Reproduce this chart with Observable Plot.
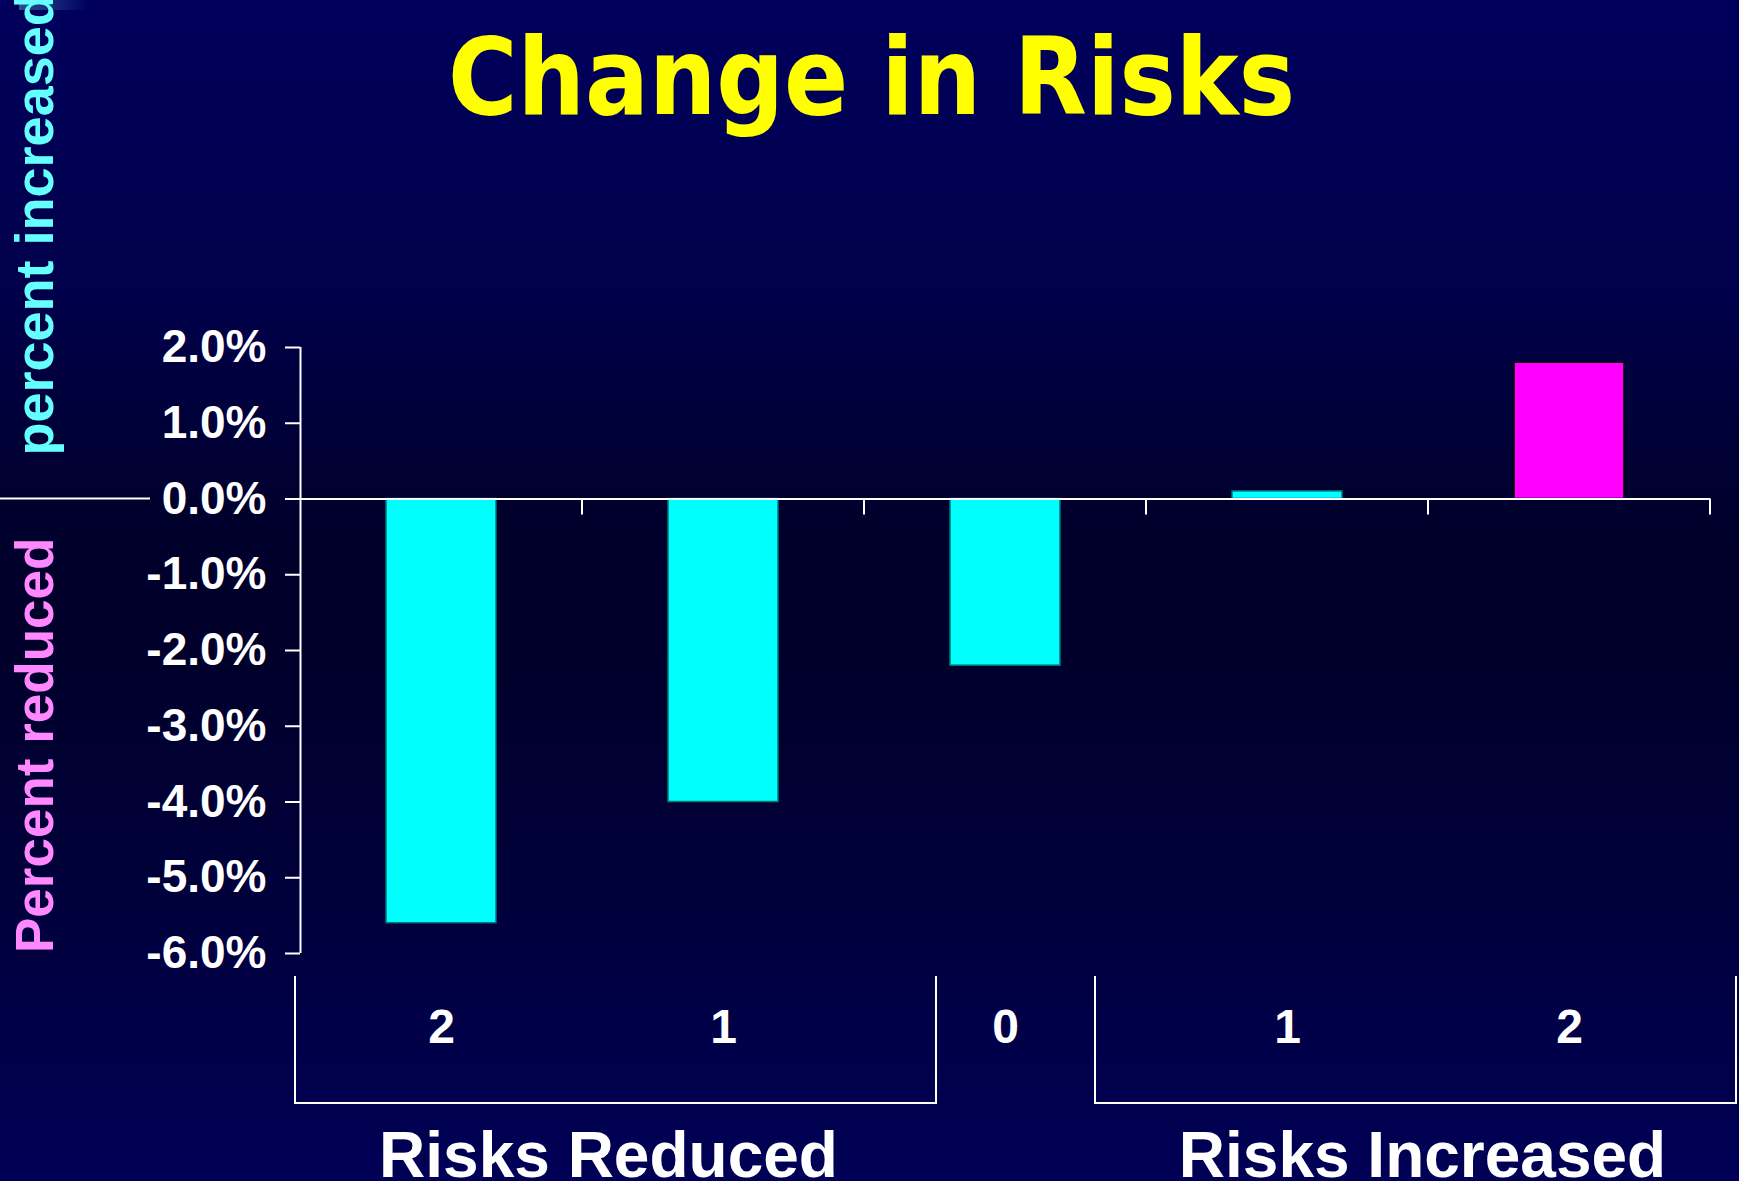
<!DOCTYPE html>
<html>
<head>
<meta charset="utf-8">
<script src="https://cdn.jsdelivr.net/npm/d3@7"></script>
<script src="https://cdn.jsdelivr.net/npm/@observablehq/plot@0.6"></script>
<style>
  html, body { margin: 0; padding: 0; }
  body {
    width: 1739px; height: 1181px; overflow: hidden; position: relative;
    background: linear-gradient(to bottom, #00005c 0%, #00004a 25%, #00002c 44%, #00002a 54%, #00003a 75%, #000056 100%);
  }
  #corner {
    position: absolute; left: 19px; top: 0; width: 68px; height: 10px;
    background: linear-gradient(to right, #2c4f8c, #000060);
  }
  #title {
    position: absolute; left: 0; top: 24px; width: 1744px; text-align: center;
    font-family: "DejaVu Sans", Verdana, sans-serif; font-weight: bold;
    font-size: 107px; line-height: 1; color: #ffff00; white-space: nowrap;
  }
  #title span { display: inline-block; transform-origin: 50% 50%; }
  #chart { position: absolute; left: 0; top: 0; }
</style>
</head>
<body>
<div id="corner"></div>
<div id="chart"></div>
<div id="title"><span>Change in Risks</span></div>
<script>
// Number of risk factors changed, from most reduced to most increased
const riskCounts = ["2", "1", "0", "1", "2"];
// Percent change for each group
const changePct = [-5.6, -4.0, -2.2, 0.1, 1.8];
// Bar drawn in the highlight colour
const emphasized = [false, false, false, false, true];
// Bracketed groups under the axis and the categories they span
const groupNames = ["Risks Reduced", "Risks Increased"];
const groupMembers = [[0, 1], [3, 4]];
// Y axis tick values (percent)
const yTickValues = [2, 1, 0, -1, -2, -3, -4, -5, -6];
// Side labels for the two halves of the y axis
const sideLabels = ["percent increased", "Percent reduced"];

const bars = riskCounts.map((label, i) => ({i, label, value: changePct[i], emph: emphasized[i]}));

// Zero-line ticks, margin divider, group brackets and side labels
function annotations(index, scales, values, dims) {
  const {x, y} = scales;
  const {width, height, marginLeft, marginBottom} = dims;
  const g = d3.create("svg:g");
  const lines = g.append("g").attr("fill", "none").attr("stroke", "white").attr("stroke-width", 2);
  const y0 = y(0);

  for (let i = 1; i <= riskCounts.length; ++i) {
    lines.append("line").attr("x1", x(i)).attr("x2", x(i)).attr("y1", y0).attr("y2", y0 + 16);
  }
  lines.append("line").attr("x1", 0).attr("x2", marginLeft - 150).attr("y1", y0).attr("y2", y0);

  const top = height - marginBottom + 23;
  const bottom = top + 127;
  const extend = [[-5, 72], [-51, 26]];
  const labelShift = [-7, 7];
  groupMembers.forEach((members, k) => {
    const left = x(members[0]) + extend[k][0];
    const right = x(members[members.length - 1] + 1) + extend[k][1];
    lines.append("path").attr("d", `M${left},${top}V${bottom}H${right}V${top}`);
    g.append("text")
      .attr("x", (left + right) / 2 + labelShift[k])
      .attr("y", height - 4)
      .attr("text-anchor", "middle")
      .attr("fill", "white")
      .attr("font-size", 64)
      .text(groupNames[k]);
  });

  const side = [
    {text: sideLabels[0], y: y0 - 43, fill: "#66ffff", size: 54},
    {text: sideLabels[1], y: height - marginBottom, fill: "#ff88ff", size: 53}
  ];
  for (const s of side) {
    g.append("text")
      .attr("transform", `translate(53,${s.y}) rotate(-90)`)
      .attr("text-anchor", "start")
      .attr("fill", s.fill)
      .attr("font-size", s.size)
      .text(s.text);
  }
  return g.node();
}

const chart = Plot.plot({
  width: 1739,
  height: 1181,
  marginLeft: 300,
  marginRight: 29,
  marginTop: 347,
  marginBottom: 228,
  style: {
    background: "transparent",
    color: "white",
    fontFamily: "'Liberation Sans', Arial, sans-serif",
    fontWeight: "bold",
    overflow: "visible"
  },
  x: {domain: [0, riskCounts.length]},
  y: {domain: [-6, 2]},
  marks: [
    Plot.rect(bars, {
      filter: d => !d.emph,
      x1: d => d.i, x2: d => d.i + 1, y1: () => 0, y2: "value",
      fill: "#00ffff", stroke: "#007a7a", strokeWidth: 1.5,
      insetLeft: 86, insetRight: 86
    }),
    Plot.rect(bars, {
      filter: d => d.emph,
      x1: d => d.i, x2: d => d.i + 1, y1: () => 0, y2: "value",
      fill: "#ff00ff", stroke: "#000000", strokeWidth: 1.5,
      insetLeft: 86, insetRight: 86
    }),
    Plot.ruleY([0], {x1: 0, x2: riskCounts.length, stroke: "white", strokeWidth: 2}),
    Plot.ruleX([0], {y1: -6, y2: 2, stroke: "white", strokeWidth: 2}),
    Plot.axisY({
      ticks: yTickValues,
      tickFormat: d => d.toFixed(1) + "%",
      tickSize: 15,
      tickPadding: 19,
      fontSize: 46,
      strokeWidth: 2,
      label: null
    }),
    Plot.axisX({
      ticks: riskCounts.map((_, i) => i + 0.5),
      tickFormat: d => riskCounts[Math.floor(d)],
      tickSize: 0,
      tickPadding: 55,
      fontSize: 48,
      label: null
    }),
    annotations
  ]
});
document.getElementById("chart").appendChild(chart);

// Fit the title to its set width
const span = document.querySelector("#title span");
const w = span.getBoundingClientRect().width;
span.style.transform = `scaleX(${847 / w})`;
</script>
</body>
</html>
